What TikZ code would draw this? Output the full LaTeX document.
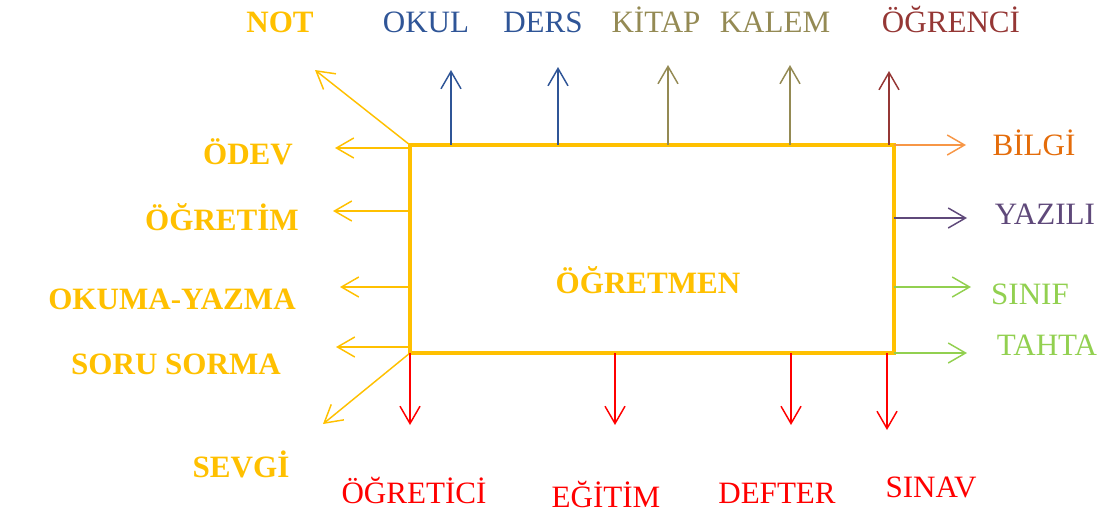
\documentclass[tikz,border=0pt]{standalone}
\usepackage{fontspec}
\setmainfont{Liberation Serif}
\usepackage{tikz}
\usetikzlibrary{arrows.meta}
\usepackage{xcolor}

\definecolor{gold}{HTML}{FFC000}
\definecolor{navy}{HTML}{2F5597}
\definecolor{olive}{HTML}{948A54}
\definecolor{wine}{HTML}{953735}
\definecolor{amber}{HTML}{E46C0A}
\definecolor{peach}{HTML}{F79646}
\definecolor{plum}{HTML}{5F497A}
\definecolor{leaf}{HTML}{92D050}
\definecolor{scarlet}{HTML}{FF0000}

\tikzset{
  lbl/.style={anchor=base, inner sep=0pt, font=\fontsize{23.3}{28}\selectfont},
  blbl/.style={lbl, font=\fontsize{23.3}{28}\selectfont\bfseries, text=gold},
  arr/.style={-{Straight Barb[length=13pt,width=15pt]}, line width=1.1pt},
  box/.style={draw=gold, line width=3pt, inner sep=0pt, outer sep=0pt,
    minimum width=363pt, minimum height=156pt}
}

\begin{document}
\begin{tikzpicture}[x=0.75pt,y=-0.75pt]
    \useasboundingbox (0,0) rectangle (1110,515);

    \node[box] (teacher) at (652,249) {};
    \node[blbl] (centre) at (648,293) {ÖĞRETMEN};

    % labels
    \node[blbl] (not) at (280,32) {NOT};
    \node[lbl, text=navy] (okul) at (426,32) {OKUL};
    \node[lbl, text=navy] (ders) at (543,32) {DERS};
    \node[lbl, text=olive] (kitap) at (656,32) {KİTAP};
    \node[lbl, text=olive] (kalem) at (775,32) {KALEM};
    \node[lbl, text=wine] (ogrenci) at (951,32) {ÖĞRENCİ};

    \node[blbl] (odev) at (248,164) {ÖDEV};
    \node[blbl] (ogretim) at (222,230) {ÖĞRETİM};
    \node[blbl] (okuma) at (172,309) {OKUMA-YAZMA};
    \node[blbl] (soru) at (176,374) {SORU SORMA};
    \node[blbl] (sevgi) at (241,477) {SEVGİ};

    \node[lbl, text=amber] (bilgi) at (1034,155) {BİLGİ};
    \node[lbl, text=plum] (yazili) at (1045,224) {YAZILI};
    \node[lbl, text=leaf] (sinif) at (1030,304) {SINIF};
    \node[lbl, text=leaf] (tahta) at (1047,355) {TAHTA};

    \node[lbl, text=scarlet] (ogretici) at (414,503) {ÖĞRETİCİ};
    \node[lbl, text=scarlet] (egitim) at (606,507) {EĞİTİM};
    \node[lbl, text=scarlet] (defter) at (777,503) {DEFTER};
    \node[lbl, text=scarlet] (sinav) at (931,497) {SINAV};

    % arrow tips
    \coordinate (notT) at (315,70);
    \coordinate (okulT) at (451,70);
    \coordinate (dersT) at (558,67);
    \coordinate (kitapT) at (668,65);
    \coordinate (kalemT) at (790,65);
    \coordinate (ogrenciT) at (889,71);
    \coordinate (odevT) at (335,148);
    \coordinate (ogretimT) at (333,211);
    \coordinate (okumaT) at (340,287);
    \coordinate (soruT) at (336,347);
    \coordinate (sevgiT) at (323,424);
    \coordinate (bilgiT) at (966,145);
    \coordinate (yaziliT) at (967,218);
    \coordinate (sinifT) at (971,287);
    \coordinate (tahtaT) at (967,353);
    \coordinate (ogreticiT) at (410,425);
    \coordinate (egitimT) at (615,425);
    \coordinate (defterT) at (791,425);
    \coordinate (sinavT) at (887,430);

    % top
    \draw[arr, navy] (teacher.north -| okulT) -- (okulT);
    \draw[arr, navy] (teacher.north -| dersT) -- (dersT);
    \draw[arr, olive] (teacher.north -| kitapT) -- (kitapT);
    \draw[arr, olive] (teacher.north -| kalemT) -- (kalemT);
    \draw[arr, wine] (teacher.north -| ogrenciT) -- (ogrenciT);

    % left
    \draw[arr, gold] (teacher.north west) -- (notT);
    \draw[arr, gold] (teacher.west |- odevT) -- (odevT);
    \draw[arr, gold] (teacher.west |- ogretimT) -- (ogretimT);
    \draw[arr, gold] (teacher.west |- okumaT) -- (okumaT);
    \draw[arr, gold] (teacher.west |- soruT) -- (soruT);
    \draw[arr, gold] (teacher.south west) -- (sevgiT);

    % right
    \draw[arr, peach] (teacher.north east) -- (bilgiT);
    \draw[arr, plum] (teacher.east |- yaziliT) -- (yaziliT);
    \draw[arr, leaf] (teacher.east |- sinifT) -- (sinifT);
    \draw[arr, leaf] (teacher.south east) -- (tahtaT);

    % bottom
    \draw[arr, scarlet] (teacher.south -| ogreticiT) -- (ogreticiT);
    \draw[arr, scarlet] (teacher.south -| egitimT) -- (egitimT);
    \draw[arr, scarlet] (teacher.south -| defterT) -- (defterT);
    \draw[arr, scarlet] (teacher.south -| sinavT) -- (sinavT);
  \end{tikzpicture}
\end{document}
